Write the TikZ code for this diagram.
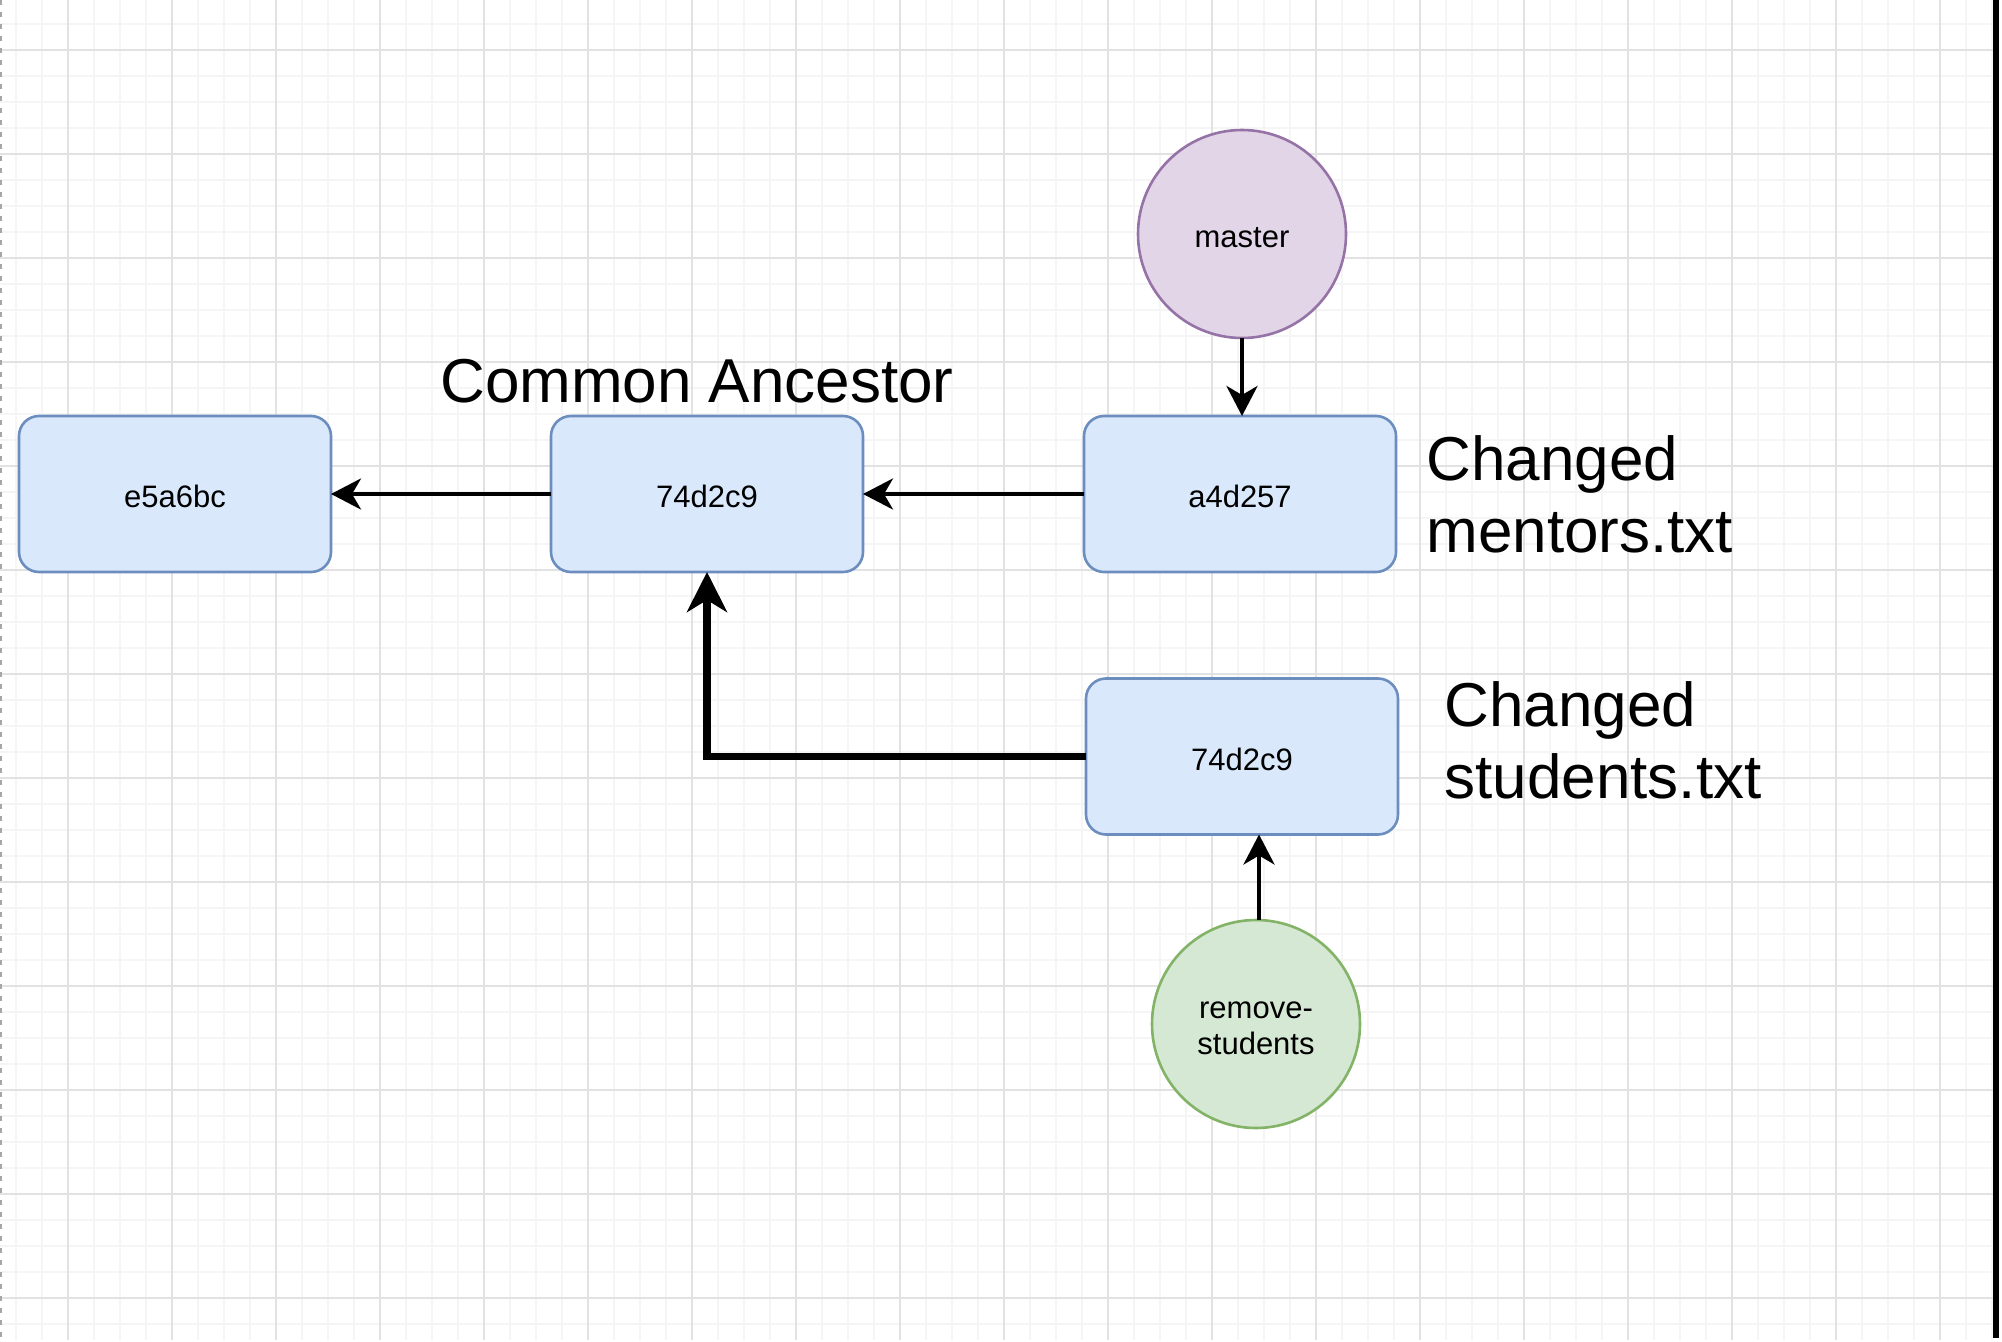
\documentclass[tikz,border=0pt]{standalone}
\usepackage{fontspec}
\setmainfont{Liberation Sans}
\usetikzlibrary{arrows.meta}
\definecolor{boxfill}{HTML}{DAE8FC}
\definecolor{boxstroke}{HTML}{6C8EBF}
\definecolor{purplefill}{HTML}{E1D5E7}
\definecolor{purplestroke}{HTML}{9673A6}
\definecolor{greenfill}{HTML}{D5E8D4}
\definecolor{greenstroke}{HTML}{82B366}
\definecolor{gridminor}{HTML}{F5F5F5}
\definecolor{gridmajor}{HTML}{E2E2E2}
\begin{document}
\begin{tikzpicture}[x=0.5pt,y=-0.5pt,
  commit/.style={draw=boxstroke, fill=boxfill, line width=1.3pt, rounded corners=10pt,
    minimum width=156pt, minimum height=78pt, inner sep=0pt, outer sep=0pt,
    text height=13.5pt, text depth=0pt,
    font=\fontsize{15.5}{18}\selectfont},
  branchnode/.style={circle, line width=1.3pt, minimum size=104pt, inner sep=0pt, outer sep=0pt,
    align=center, font=\fontsize{15.5}{18}\selectfont},
  link/.style={line width=2pt, -{Stealth[length=15pt,width=15.5pt,inset=4.5pt]}},
  biglink/.style={line width=3.8pt, -{Stealth[length=20pt,width=20pt,inset=6pt]}},
  note/.style={font=\fontsize{31}{35.75}\selectfont, inner sep=0pt, align=left}
]
\useasboundingbox (0,0) rectangle (2002,1342);
\fill[white] (0,0) rectangle (2002,1342);
% grid
\foreach \x in {16,42,...,1992} \draw[gridminor, line width=0.6pt] (\x,0) -- (\x,1340);
\foreach \y in {24,50,...,1340} \draw[gridminor, line width=0.6pt] (0,\y) -- (1993,\y);
\foreach \x in {68,172,...,1940} \draw[gridmajor, line width=0.6pt] (\x,0) -- (\x,1340);
\foreach \y in {50,154,...,1340} \draw[gridmajor, line width=0.6pt] (0,\y) -- (1993,\y);
% page edges
\draw[gray!70, line width=1pt, dash pattern=on 2.5pt off 3.5pt] (1,0) -- (1,1342);
\draw[black, line width=3pt] (1996,0) -- (1996,1338);

% commits
\node[commit] (e) at (175,494) {e5a6bc};
\node[commit] (c) at (707,494) {74d2c9};
\node[commit] (a) at (1240,494) {a4d257};
\node[commit] (b) at (1242,756.5) {74d2c9};
% branches
\node[branchnode, draw=purplestroke, fill=purplefill, text height=14pt, text depth=0pt] (m) at (1242,234) {master};
\node[branchnode, draw=greenstroke, fill=greenfill, text height=30pt, text depth=0pt] (r) at (1256,1024) {remove-\\students};
% labels
\node[note, anchor=base] (ca) at (697,403) {Common Ancestor};
\node[note, anchor=base west] (cm) at (1426,552) {Changed\\mentors.txt};
\node[note, anchor=base west] (cs) at (1444,798) {Changed\\students.txt};

% connectors
\draw[link] (c.west) -- (e.east);
\draw[link] (a.west) -- (c.east);
\draw[link] (m.south) -- (m.south |- a.north);
\draw[link] ([xshift=1.5pt]r.north) -- ([xshift=1.5pt]r.north |- b.south);
\draw[biglink] (b.west) -| (c.south);
\end{tikzpicture}
\end{document}
